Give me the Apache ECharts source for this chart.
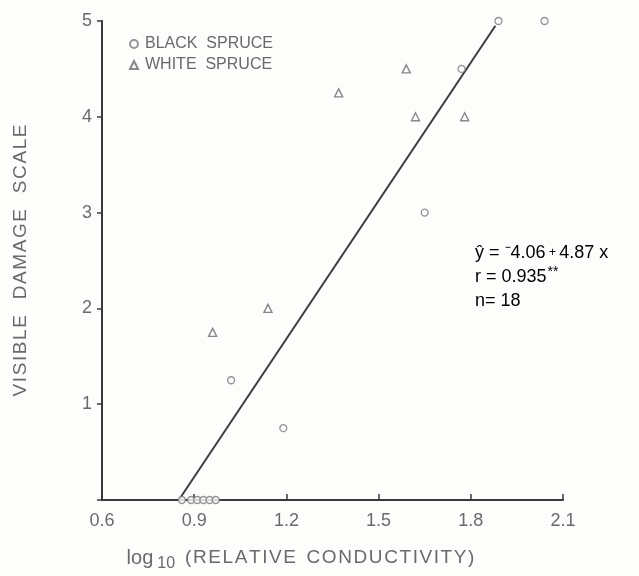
<!DOCTYPE html>
<html>
<head>
<meta charset="utf-8">
<script src="https://cdn.jsdelivr.net/npm/echarts@6/dist/echarts.min.js"></script>
<style>
  html, body { margin: 0; padding: 0; background: #fdfdfc; }
  #chart { width: 639px; height: 576px; }
</style>
</head>
<body>
<div id="chart"></div>
<script>
// Black spruce samples: log10 relative conductivity vs. visible damage
const blackSpruceX = [0.86, 0.89, 0.91, 0.93, 0.95, 0.97, 1.02, 1.19, 1.65, 1.77, 1.89, 2.04];
const blackSpruceY = [0, 0, 0, 0, 0, 0, 1.25, 0.75, 3, 4.5, 5, 5];

// White spruce samples
const whiteSpruceX = [0.96, 1.14, 1.37, 1.59, 1.62, 1.78];
const whiteSpruceY = [1.75, 2, 4.25, 4.5, 4, 4];

// Fitted regression line end points
const fitX = [0.85, 1.88];
const fitY = [0, 4.95];

// Axis ranges
const xRange = [0.6, 2.1, 0.3];
const yRange = [0, 5, 1];

const pairs = (xs, ys) => xs.map((x, i) => [x, ys[i]]);
// widen lettering with hair spaces between the letters of each word
const spaced = (s, gap) => s.split(' ').map(w => w.split('').join('\u200A')).join(gap);

const FONT = 'Liberation Sans';
const TXT = '#6a6a6a';

const chart = echarts.init(document.getElementById('chart'));
chart.setOption({
  animation: false,
  backgroundColor: '#fdfdfc',
  textStyle: { fontFamily: FONT, color: TXT },
  grid: { left: 102, right: 76, top: 21, bottom: 76, outerBoundsMode: 'none' },
  legend: {
    orient: 'vertical',
    left: 124,
    top: 31,
    itemGap: 5,
    itemWidth: 8,
    itemHeight: 8,
    data: ['BLACK  SPRUCE', 'WHITE  SPRUCE'],
    textStyle: { fontFamily: FONT, fontSize: 16, color: TXT, padding: [0, 0, 0, 2] }
  },
  xAxis: {
    type: 'value',
    min: xRange[0], max: xRange[1], interval: xRange[2],
    splitLine: { show: false },
    axisLine: { lineStyle: { color: '#3a3a3a', width: 2 } },
    axisTick: { inside: true, length: 6, lineStyle: { color: '#3a3a3a', width: 1.5 } },
    axisLabel: {
      margin: 12, fontSize: 18, color: TXT, fontFamily: FONT,
      formatter: v => v.toFixed(1)
    },
    name: '{lg|log}{sub|10}{a|' + spaced('(RELATIVE CONDUCTIVITY)', '  ') + '}',
    nameLocation: 'middle',
    nameGap: 44,
    nameTextStyle: {
      padding: [0, 64, 0, 0],
      rich: {
        lg: { fontSize: 20, color: TXT, fontFamily: FONT },
        a: { fontSize: 19, color: TXT, fontFamily: FONT, padding: [0, 0, 0, 10] },
        sub: { fontSize: 16, color: TXT, fontFamily: FONT, padding: [12, 0, 0, 4] }
      }
    }
  },
  yAxis: {
    type: 'value',
    min: yRange[0], max: yRange[1], interval: yRange[2],
    splitLine: { show: false },
    axisLine: { lineStyle: { color: '#3a3a3a', width: 2 } },
    axisTick: { length: 5, lineStyle: { color: '#3a3a3a', width: 1.5 } },
    axisLabel: {
      margin: 10, fontSize: 18, color: TXT, fontFamily: FONT,
      formatter: v => (v === 0 ? '' : String(v))
    },
    name: spaced('VISIBLE DAMAGE SCALE', '   '),
    nameLocation: 'middle',
    nameGap: 72,
    nameTextStyle: { fontSize: 19, color: TXT, fontFamily: FONT }
  },
  graphic: [{
    type: 'text',
    left: 475,
    top: 244,
    style: {
      text: [
        '{t|ŷ = ⁻4.06}{p| + }{t|4.87 x}',
        '{t|r = 0.935}{s|**}',
        '{t|n= 18}'
      ].join('\n'),
      rich: {
        t: { fontSize: 18, color: TXT, fontFamily: FONT, lineHeight: 24 },
        p: { fontSize: 12, color: TXT, fontFamily: FONT, lineHeight: 24 },
        s: { fontSize: 14, color: TXT, fontFamily: FONT, padding: [0, 0, 10, 1] }
      }
    }
  }],
  series: [
    {
      name: 'fit',
      type: 'line',
      data: pairs(fitX, fitY),
      showSymbol: false,
      silent: true,
      lineStyle: { color: '#3c3c3c', width: 2 },
      z: 1
    },
    {
      name: 'BLACK  SPRUCE',
      type: 'scatter',
      data: pairs(blackSpruceX, blackSpruceY),
      symbol: 'circle',
      symbolSize: 7,
      clip: false,
      itemStyle: { color: '#fdfdfc', borderColor: '#7a7a7a', borderWidth: 1.3 },
      z: 3
    },
    {
      name: 'WHITE  SPRUCE',
      type: 'scatter',
      data: pairs(whiteSpruceX, whiteSpruceY),
      symbol: 'triangle',
      symbolSize: 8,
      clip: false,
      itemStyle: { color: '#fdfdfc', borderColor: '#6a6a6a', borderWidth: 1.4 },
      z: 3
    }
  ]
});
</script>
</body>
</html>
